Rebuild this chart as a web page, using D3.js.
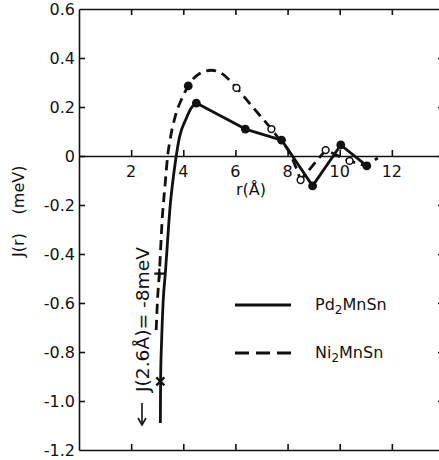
<!DOCTYPE html>
<html><head><meta charset="utf-8">
<script src="https://cdn.jsdelivr.net/npm/d3@7"></script>
<style>
html,body{margin:0;padding:0;background:#fff;}
text{font-family:"DejaVu Sans",sans-serif;fill:#111;}
</style></head>
<body>
<svg id="c" width="439" height="460"></svg>
<script>
// ---- data ----
const xTicks = [2, 4, 6, 8, 10, 12];
const xTickLabels = ["2", "4", "6", "8", "10", "12"];
const yTicks = [0.6, 0.4, 0.2, 0, -0.2, -0.4, -0.6, -0.8, -1.0, -1.2];
const yTickLabels = ["0.6", "0.4", "0.2", "0", "-0.2", "-0.4", "-0.6", "-0.8", "-1.0", "-1.2"];

// Pd2MnSn (solid)
const pdCurve = [[3.12,-1.09],[3.13,-0.92],[3.17,-0.75],[3.23,-0.59],[3.31,-0.48],[3.5,-0.2],[3.65,-0.06],[3.73,0],[3.85,0.075],[4.1,0.15],[4.3,0.195],[4.5,0.216],[6.38,0.11],[7.77,0.065],[8.96,-0.122],[10.04,0.045],[11.04,-0.04]];
const pdDots = [[4.5,0.216],[6.38,0.11],[7.77,0.065],[8.96,-0.122],[10.04,0.045],[11.04,-0.04]];
const pdCross = [[3.12,-0.92]];

// Ni2MnSn (dashed)
const niCurve = [[2.96,-0.71],[3.01,-0.59],[3.08,-0.48],[3.2,-0.245],[3.3,-0.12],[3.4,0],[3.5,0.07],[3.7,0.165],[3.97,0.24],[4.19,0.286],[4.6,0.335],[5.08,0.35],[5.5,0.335],[6.04,0.278],[6.7,0.195],[7.38,0.11],[7.75,0.06],[7.96,0.035],[8.5,-0.098],[9.46,0.024],[10.38,-0.02],[11.0,-0.04],[11.46,-0.008]];
const niFilled = [[4.19,0.286]];
const niOpen = [[6.04,0.278],[7.38,0.11],[8.5,-0.098],[9.46,0.024],[10.38,-0.02]];
const niPlus = [[3.08,-0.48]];

const seriesNames = [["Pd", "2", "MnSn"], ["Ni", "2", "MnSn"]];

// ---- chart ----
const svg = d3.select("#c");
const x = d3.scaleLinear().domain([0, 14]).range([79, 444]);
const y = d3.scaleLinear().domain([-1.2, 0.6]).range([450, 9]);
const ink = "#111";

const axisStyle = g => {
  g.selectAll("path").attr("stroke", ink).attr("stroke-width", 1.6);
  g.selectAll("line").attr("stroke", ink).attr("stroke-width", 1.6);
};
svg.append("g").attr("transform", `translate(0,${y(-1.2)})`)
  .call(d3.axisTop(x).tickValues(xTicks).tickSize(6).tickSizeOuter(0).tickFormat(""))
  .call(axisStyle);
svg.append("g").attr("transform", `translate(0,${y(0.6)})`)
  .call(d3.axisBottom(x).tickValues(xTicks).tickSize(6).tickSizeOuter(0).tickFormat(""))
  .call(axisStyle);
svg.append("g").attr("transform", `translate(${x(0)},0)`)
  .call(d3.axisRight(y).tickValues(yTicks.slice(1, -1)).tickSize(6).tickSizeOuter(0).tickFormat(""))
  .call(axisStyle);
svg.append("g").attr("transform", `translate(${x(14)},0)`)
  .call(d3.axisLeft(y).tickValues(yTicks.slice(1, -1)).tickSize(6).tickSizeOuter(0).tickFormat(""))
  .call(axisStyle);
svg.append("g").attr("transform", `translate(0,${y(0)})`)
  .call(d3.axisTop(x).tickValues(xTicks).tickSize(6).tickSizeOuter(0).tickFormat(""))
  .call(axisStyle);

// y tick labels
svg.append("g").selectAll("text").data(yTicks).join("text")
  .attr("x", 75).attr("y", d => y(d)).attr("dy", "0.36em")
  .attr("text-anchor", "end").attr("font-size", 16)
  .text((d, i) => yTickLabels[i]);
// x tick labels
svg.append("g").selectAll("text").data(xTicks).join("text")
  .attr("x", d => x(d)).attr("y", y(0) + 21)
  .attr("text-anchor", "middle").attr("font-size", 16)
  .text((d, i) => xTickLabels[i]);

// axis titles
svg.append("text").attr("x", 251).attr("y", 195).attr("text-anchor", "middle")
  .attr("font-size", 16).text("r(Å)");
svg.append("text").attr("transform", "translate(24,245) rotate(-90)")
  .attr("text-anchor", "middle").attr("font-size", 16).text("J(r)");
svg.append("text").attr("transform", "translate(24,190) rotate(-90)")
  .attr("text-anchor", "middle").attr("font-size", 16).text("(meV)");

// curves
const smooth = d3.line().x(d => x(d[0])).y(d => y(d[1])).curve(d3.curveMonotoneX);
const lineLin = d3.line().x(d => x(d[0])).y(d => y(d[1]));
svg.append("path").attr("d", smooth(pdCurve.slice(0, 12)))
  .attr("fill", "none").attr("stroke", ink).attr("stroke-width", 2.8);
svg.append("path").attr("d", lineLin(pdCurve.slice(11)))
  .attr("fill", "none").attr("stroke", ink).attr("stroke-width", 2.8).attr("stroke-linejoin", "round");
svg.append("path").attr("d", smooth(niCurve.slice(0, 19)))
  .attr("fill", "none").attr("stroke", ink).attr("stroke-width", 2.8).attr("stroke-dasharray", "10,6");
svg.append("path").attr("d", lineLin(niCurve.slice(18)))
  .attr("fill", "none").attr("stroke", ink).attr("stroke-width", 2.8).attr("stroke-dasharray", "10,6").attr("stroke-dashoffset", 3);

// markers
svg.append("g").selectAll("circle").data(pdDots.concat(niFilled)).join("circle")
  .attr("cx", d => x(d[0])).attr("cy", d => y(d[1])).attr("r", 4.4).attr("fill", ink);
svg.append("g").selectAll("circle").data(niOpen).join("circle")
  .attr("cx", d => x(d[0])).attr("cy", d => y(d[1])).attr("r", 3.4)
  .attr("fill", "#fff").attr("stroke", ink).attr("stroke-width", 1.5);
svg.append("g").selectAll("path").data(pdCross).join("path")
  .attr("d", "M-4,-4L4,4M-4,4L4,-4")
  .attr("transform", d => `translate(${x(d[0])},${y(d[1])})`)
  .attr("stroke", ink).attr("stroke-width", 2.4).attr("fill", "none");
svg.append("g").selectAll("path").data(niPlus).join("path")
  .attr("d", "M-5,0L5,0M0,-5L0,5")
  .attr("transform", d => `translate(${x(d[0])},${y(d[1])})`)
  .attr("stroke", ink).attr("stroke-width", 2.2).attr("fill", "none");

// annotation
svg.append("text").attr("transform", "translate(149,392) rotate(-90)")
  .attr("text-anchor", "start").attr("font-size", 17)
  .attr("textLength", 145).attr("lengthAdjust", "spacingAndGlyphs")
  .text("J(2.6Å)= -8meV");
svg.append("line").attr("x1", 142).attr("x2", 142).attr("y1", 403).attr("y2", 424)
  .attr("stroke", ink).attr("stroke-width", 1.6);
svg.append("path").attr("d", "M138,418 L142,425 L146,418")
  .attr("fill", "none").attr("stroke", ink).attr("stroke-width", 1.6);

// legend
svg.append("line").attr("x1", 235).attr("x2", 291).attr("y1", 305).attr("y2", 305)
  .attr("stroke", ink).attr("stroke-width", 2.8);
svg.append("line").attr("x1", 235).attr("x2", 292).attr("y1", 353).attr("y2", 353)
  .attr("stroke", ink).attr("stroke-width", 2.8).attr("stroke-dasharray", "14,7");
[310, 358].forEach((yy, i) => {
  const t = svg.append("text").attr("x", 315).attr("y", yy).attr("font-size", 16);
  t.append("tspan").text(seriesNames[i][0]);
  t.append("tspan").attr("dy", 4).attr("font-size", 12).text(seriesNames[i][1]);
  t.append("tspan").attr("dy", -4).text(seriesNames[i][2]);
});
</script>
</body></html>
